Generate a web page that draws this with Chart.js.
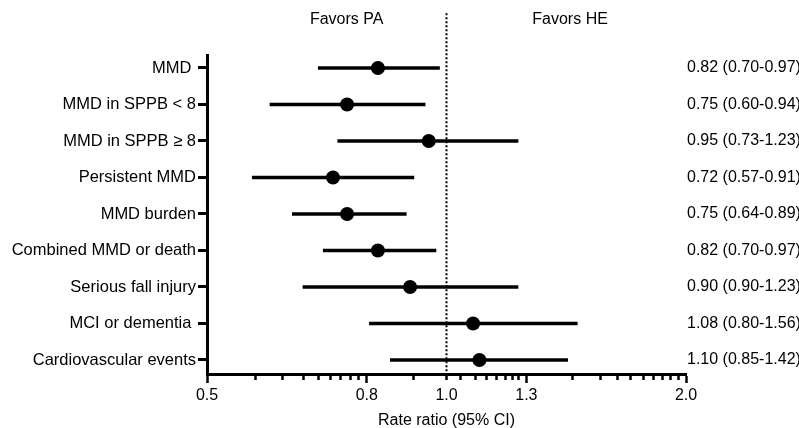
<!DOCTYPE html>
<html lang="en">
<head>
    <meta charset="UTF-8">
    <title>Rate ratio forest plot</title>
    <script src="https://cdn.jsdelivr.net/npm/chart.js"></script>
    <style>
        html, body { margin: 0; padding: 0; background: #fff; }
    </style>
</head>
<body>

    <canvas id="forestChart" width="799" height="428"></canvas>

    <script>
        // Outcomes, top to bottom
        var outcomes = ['MMD ', 'MMD in SPPB < 8', 'MMD in SPPB \u2265 8', 'Persistent MMD', 'MMD burden',
                        'Combined MMD or death', 'Serious fall injury', 'MCI or dementia ', 'Cardiovascular events'];

        // Rate ratios and 95% CI as drawn
        var estimate = [0.82, 0.75, 0.95, 0.72, 0.75, 0.82, 0.90, 1.08, 1.10];
        var lower    = [0.69, 0.60, 0.73, 0.57, 0.64, 0.70, 0.66, 0.80, 0.85];
        var upper    = [0.98, 0.94, 1.23, 0.91, 0.89, 0.97, 1.23, 1.46, 1.42];

        // Text column on the right
        var ciText = ['0.82 (0.70-0.97)', '0.75 (0.60-0.94)', '0.95 (0.73-1.23)', '0.72 (0.57-0.91)', '0.75 (0.64-0.89)',
                      '0.82 (0.70-0.97)', '0.90 (0.90-1.23)', '1.08 (0.80-1.56)', '1.10 (0.85-1.42)'];

        // Log2 axis: labelled ticks, long ticks and minor ticks
        var xTickValues = [0.5, 0.794, 1.0, 1.26, 2.0];
        var xTickLabels = ['0.5', '0.8', '1.0', '1.3', '2.0'];
        var xLongTicks = [0.5, 0.794, 1.26, 2.0];
        var xMinorTicks = [0.575, 0.623, 0.661, 0.69, 0.715, 0.736, 0.757, 0.775, 0.909,
                           1.041, 1.087, 1.124, 1.157, 1.186, 1.209, 1.232,
                           1.438, 1.561, 1.638, 1.702, 1.768, 1.82, 1.866, 1.911, 1.956];

        // Headers above the plot
        var sideValues = [0.749, 1.43];
        var sideLabels = ['Favors PA', 'Favors HE'];

        // No-effect reference line
        var nullLine = [{ x: 1, y: -1.5 }, { x: 1, y: 8.384 }];

        var rowIndex = outcomes.map(function (o, i) { return i; });
        var allXTicks = xTickValues.concat(xMinorTicks).sort(function (a, b) { return a - b; });

        Chart.defaults.font.family = "'Liberation Sans', Arial, Helvetica, sans-serif";
        Chart.defaults.font.size = 16;
        Chart.defaults.color = '#000';

        var yMin = -0.356, yMax = 8.384;

        function setRowTicks(scale) {
            scale.ticks = rowIndex.map(function (i) { return { value: i }; });
        }

        var ctx = document.getElementById('forestChart').getContext('2d');

        var myChart = new Chart(ctx, {
            type: 'bar',
            data: {
                datasets: [{
                    type: 'scatter',
                    data: estimate.map(function (v, i) { return { x: v, y: i }; }),
                    xAxisID: 'x', yAxisID: 'y',
                    pointRadius: 7,
                    pointHoverRadius: 7,
                    backgroundColor: '#000',
                    borderWidth: 0,
                    order: 0
                }, {
                    type: 'bar',
                    data: lower.map(function (v, i) { return { x: [v, upper[i]], y: i }; }),
                    xAxisID: 'x', yAxisID: 'y',
                    backgroundColor: '#000',
                    barThickness: 3,
                    order: 1
                }, {
                    type: 'line',
                    data: nullLine,
                    xAxisID: 'x', yAxisID: 'y',
                    borderColor: '#000',
                    borderWidth: 2,
                    borderDash: [2, 2],
                    pointRadius: 0,
                    clip: false,
                    order: 2
                }]
            },
            options: {
                indexAxis: 'y',
                responsive: false,
                animation: false,
                layout: { padding: 0 },
                plugins: {
                    legend: { display: false },
                    tooltip: { enabled: false }
                },
                scales: {
                    x: {
                        type: 'logarithmic',
                        position: 'bottom',
                        min: 0.5,
                        max: 2,
                        afterBuildTicks: function (s) {
                            s.ticks = allXTicks.map(function (v) { return { value: v }; });
                        },
                        afterFit: function (s) { s.height = 54; },
                        grid: {
                            drawOnChartArea: false,
                            tickLength: 9,
                            tickWidth: 2.5,
                            tickColor: '#000',
                            tickBorderDash: function (c) {
                                return xLongTicks.indexOf(c.tick.value) >= 0 ? [] : [4, 20];
                            }
                        },
                        border: { color: '#000', width: 3 },
                        ticks: {
                            autoSkip: false,
                            maxRotation: 0,
                            padding: 3,
                            callback: function (v) {
                                var k = xTickValues.indexOf(v);
                                return k < 0 ? '' : xTickLabels[k];
                            }
                        },
                        title: {
                            display: true,
                            text: 'Rate ratio (95% CI)',
                            font: { size: 16, lineHeight: 1 },
                            padding: { top: 0, bottom: -1 }
                        }
                    },
                    x2: {
                        type: 'logarithmic',
                        position: 'top',
                        min: 0.5,
                        max: 2,
                        afterBuildTicks: function (s) {
                            s.ticks = sideValues.map(function (v) { return { value: v }; });
                        },
                        afterFit: function (s) { s.height = 55; },
                        grid: { display: false, drawTicks: false },
                        border: { display: false },
                        ticks: {
                            autoSkip: false,
                            maxRotation: 0,
                            padding: 26,
                            callback: function (v) { return sideLabels[sideValues.indexOf(v)]; }
                        }
                    },
                    y: {
                        type: 'linear',
                        position: 'left',
                        reverse: true,
                        offset: false,
                        min: yMin,
                        max: yMax,
                        afterBuildTicks: setRowTicks,
                        afterFit: function (s) { s.width = 207; },
                        grid: {
                            offset: false,
                            drawOnChartArea: false,
                            tickLength: 9,
                            tickWidth: 3,
                            tickColor: '#000'
                        },
                        border: { color: '#000', width: 3 },
                        ticks: {
                            autoSkip: false,
                            padding: 2,
                            font: { size: 16.5 },
                            callback: function (v) { return outcomes[v]; }
                        }
                    },
                    y2: {
                        type: 'linear',
                        position: 'right',
                        reverse: true,
                        offset: false,
                        min: yMin,
                        max: yMax,
                        afterBuildTicks: setRowTicks,
                        afterFit: function (s) { s.width = 113; },
                        grid: { display: false, drawTicks: false, offset: false },
                        border: { display: false },
                        ticks: {
                            autoSkip: false,
                            padding: 1,
                            callback: function (v) { return ciText[v]; }
                        }
                    }
                }
            }
        });
    </script>

</body>
</html>
